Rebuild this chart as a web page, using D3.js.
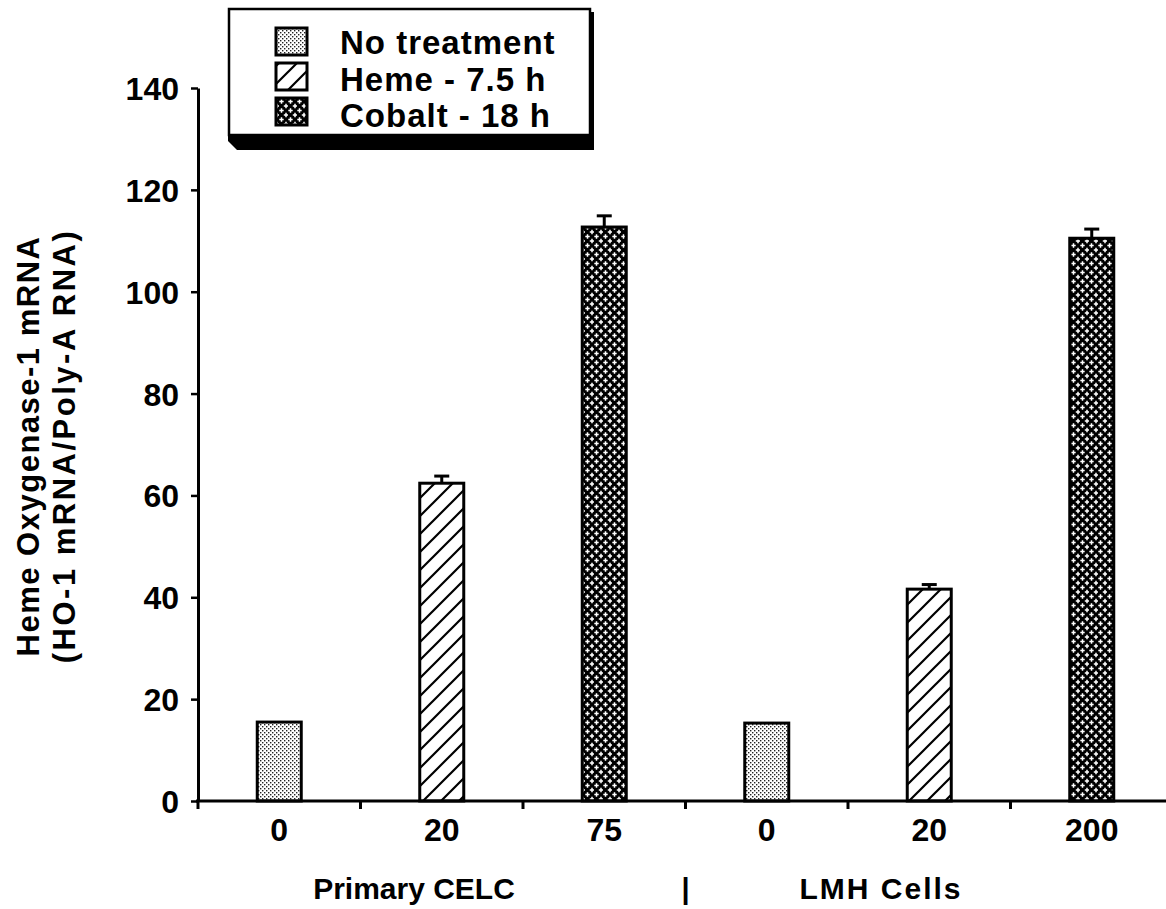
<!DOCTYPE html>
<html>
<head>
<meta charset="utf-8">
<script src="https://cdn.jsdelivr.net/npm/d3@7"></script>
<style>
  body { margin: 0; background: #fff; }
  text { font-family: "Liberation Sans", Arial, Helvetica, sans-serif; font-weight: bold; fill: #000; }
</style>
</head>
<body>
<div id="chart"></div>
<script>
const width = 1166
const height = 909

// Datos
const doses = ["0", "20", "75", "0", "20", "200"]
const treatment = ["none", "heme", "cobalt", "none", "heme", "cobalt"]
const values = [15.5, 62.4, 112.7, 15.3, 41.6, 110.5]
const errors = [0, 1.4, 2.2, 0, 0.9, 1.8]
const yTicks = [0, 20, 40, 60, 80, 100, 120, 140]
const legendKeys = ["none", "heme", "cobalt"]
const legendLabels = ["No treatment", "Heme - 7.5 h", "Cobalt - 18 h"]
const groupLabels = ["Primary CELC", "LMH Cells"]

const svg = d3.select("#chart").append("svg")
  .attr("width", width)
  .attr("height", height)

// Patrones
const defs = svg.append("defs")

const dots = defs.append("pattern").attr("id", "p-none")
  .attr("patternUnits", "userSpaceOnUse").attr("width", 4).attr("height", 4)
dots.append("rect").attr("width", 4).attr("height", 4).attr("fill", "#fff")
dots.append("rect").attr("x", 0).attr("y", 0).attr("width", 1.4).attr("height", 1.4).attr("fill", "#222")
dots.append("rect").attr("x", 2).attr("y", 2).attr("width", 1.4).attr("height", 1.4).attr("fill", "#222")

const hatch = defs.append("pattern").attr("id", "p-heme")
  .attr("patternUnits", "userSpaceOnUse").attr("width", 18).attr("height", 18)
hatch.append("rect").attr("width", 18).attr("height", 18).attr("fill", "#fff")
hatch.append("path").attr("d", "M-4,4 L4,-4 M0,18 L18,0 M14,22 L22,14")
  .attr("stroke", "#000").attr("stroke-width", 2.2)

const cross = defs.append("pattern").attr("id", "p-cobalt")
  .attr("patternUnits", "userSpaceOnUse").attr("width", 9).attr("height", 9)
cross.append("rect").attr("width", 9).attr("height", 9).attr("fill", "#000")
cross.append("path").attr("d", "M2.5,0.3 V4.7 M0.3,2.5 H4.7 M7,4.8 V9.2 M4.8,7 H9.2 M7,-0.2 V0.2")
  .attr("stroke", "#fff").attr("stroke-width", 1.5)

// Escalas
const x = d3.scaleBand().domain(d3.range(doses.length)).range([198, 1173]).padding(0)
const y = d3.scaleLinear().domain([0, 140]).range([801, 88])
const barW = 44

// Barras
const bars = svg.append("g")
bars.selectAll("rect").data(values).enter().append("rect")
  .attr("x", (d, i) => x(i) + x.bandwidth() / 2 - barW / 2)
  .attr("y", d => y(d))
  .attr("width", barW)
  .attr("height", d => y(0) - y(d))
  .attr("fill", (d, i) => `url(#p-${treatment[i]})`)
  .attr("stroke", "#000")
  .attr("stroke-width", 3)

// Barras de error
const err = svg.append("g").attr("stroke", "#000").attr("stroke-width", 3)
values.forEach((v, i) => {
  if (!errors[i]) return
  const cx = x(i) + x.bandwidth() / 2
  err.append("line").attr("x1", cx).attr("x2", cx).attr("y1", y(v)).attr("y2", y(v + errors[i]))
  err.append("line").attr("x1", cx - 7.5).attr("x2", cx + 7.5).attr("y1", y(v + errors[i])).attr("y2", y(v + errors[i]))
})

// Eje Y
const yAxis = svg.append("g").attr("transform", "translate(198,0)")
  .call(d3.axisLeft(y).tickValues(yTicks).tickSize(7).tickSizeOuter(0).tickPadding(12))
yAxis.select(".domain").attr("stroke-width", 3)
yAxis.selectAll(".tick line").attr("stroke-width", 2.5)
yAxis.selectAll("text").attr("font-size", 32).attr("dy", "0.36em")
  .style("font-family", '"Liberation Sans", Arial, sans-serif').style("font-weight", "bold")

// Eje X
svg.append("line").attr("x1", 196).attr("x2", 1166).attr("y1", y(0)).attr("y2", y(0))
  .attr("stroke", "#000").attr("stroke-width", 3)
svg.append("g").selectAll("line").data(d3.range(doses.length)).enter().append("line")
  .attr("x1", i => x(i)).attr("x2", i => x(i))
  .attr("y1", y(0)).attr("y2", y(0) + 8)
  .attr("stroke", "#000").attr("stroke-width", 3)
svg.append("g").selectAll("text").data(doses).enter().append("text")
  .attr("x", (d, i) => x(i) + x.bandwidth() / 2)
  .attr("y", 841)
  .attr("text-anchor", "middle")
  .attr("font-size", 32)
  .text(d => d)

svg.append("text").attr("x", 414).attr("y", 899).attr("text-anchor", "middle")
  .attr("font-size", 30).attr("letter-spacing", 0).text(groupLabels[0])
svg.append("text").attr("x", x(3)).attr("y", 899).attr("text-anchor", "middle")
  .attr("font-size", 29).text("|")
svg.append("text").attr("x", 881).attr("y", 899).attr("text-anchor", "middle")
  .attr("font-size", 30).attr("letter-spacing", 2).text(groupLabels[1])

// Título eje Y
const yTitle = svg.append("g").attr("transform", "translate(0,446) rotate(-90)")
yTitle.append("text").attr("x", 0).attr("y", 39).attr("text-anchor", "middle")
  .attr("font-size", 31).attr("letter-spacing", 1.5).text("Heme Oxygenase-1 mRNA")
yTitle.append("text").attr("x", 0).attr("y", 75).attr("text-anchor", "middle")
  .attr("font-size", 31).attr("letter-spacing", 2.5).text("(HO-1 mRNA/Poly-A RNA)")

// Leyenda
const lg = svg.append("g")
lg.append("path").attr("d", "M228,134 L592,134 L592,150 L237,150 L228,141 Z").attr("fill", "#000")
lg.append("rect").attr("x", 589).attr("y", 12).attr("width", 5).attr("height", 138).attr("fill", "#000")
lg.append("rect").attr("x", 229).attr("y", 9).attr("width", 361).attr("height", 126)
  .attr("fill", "#fff").attr("stroke", "#000").attr("stroke-width", 2.5)
legendKeys.forEach((k, i) => {
  lg.append("rect").attr("x", 276).attr("y", 28 + i * 35).attr("width", 31).attr("height", 27)
    .attr("fill", `url(#p-${k})`).attr("stroke", "#000").attr("stroke-width", 3)
  lg.append("text").attr("x", 340).attr("y", 54 + i * 36.5).attr("font-size", 33)
    .attr("letter-spacing", 1).text(legendLabels[i])
})
</script>
</body>
</html>
